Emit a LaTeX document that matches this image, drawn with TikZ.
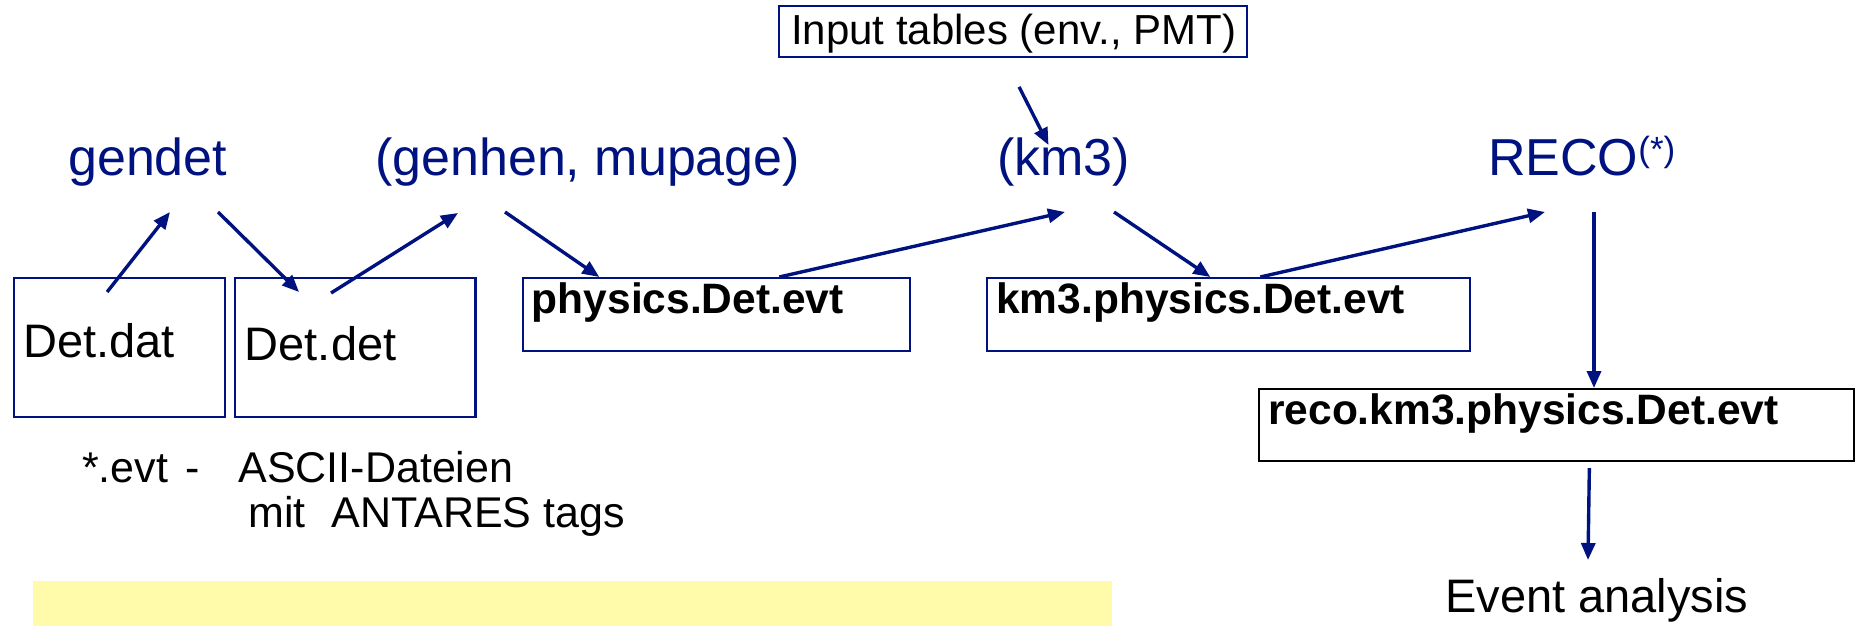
\documentclass[tikz,border=0pt]{standalone}
\usepackage{fontspec}
\setmainfont{Liberation Sans}
\usetikzlibrary{arrows.meta,calc}
\definecolor{navy}{RGB}{0,18,128}
\definecolor{paleyellow}{RGB}{255,251,170}
\begin{document}
\begin{tikzpicture}[x=1pt,y=-1pt,
  filebox/.style={draw=navy,line width=2.2pt,inner sep=0pt,anchor=north west},
  tool/.style={text=navy,font=\fontsize{52}{60}\selectfont,inner sep=0pt,anchor=base west},
  fname/.style={font=\fontsize{42.5}{50}\selectfont\bfseries,inner sep=0pt,anchor=base west},
  plain/.style={font=\fontsize{47}{55}\selectfont,inner sep=0pt,anchor=base west},
  note/.style={font=\fontsize{43}{50}\selectfont,inner sep=0pt,anchor=base west},
  flow/.style={draw=navy,line width=3.4pt,-{Triangle[length=17pt,width=14pt]}}
]
\useasboundingbox (0,0) rectangle (1856,626);

% highlighted strip at the bottom
\fill[paleyellow] (33,581) rectangle (1112,626);

% file boxes
\node[filebox,minimum width=211pt,minimum height=139pt] (dat) at (12.5,277) {};
\node[filebox,minimum width=240.7pt,minimum height=139pt] (det) at (233.6,277) {};
\node[filebox,minimum width=387pt,minimum height=73pt] (phys) at (521.7,277) {};
\node[filebox,minimum width=483pt,minimum height=73pt] (km3box) at (985.7,277) {};
\node[filebox,draw=black,minimum width=595.5pt,minimum height=72pt] (recobox) at (1257.5,388) {};
\node[filebox,minimum width=468pt,minimum height=51pt] (input) at (778,4.7) {};

% file names
\node[plain] (datlbl) at (23,357) {Det.dat};
\node[plain] (detlbl) at (244.6,360) {Det.det};
\node[fname] (physlbl) at (531.7,313.3) {physics.Det.evt};
\node[fname] (km3lbl) at (996,313) {km3.physics.Det.evt};
\node[fname] (recolbl) at (1268,424) {reco.km3.physics.Det.evt};
\node[font=\fontsize{42}{50}\selectfont,inner sep=0pt,anchor=base west] (inlbl) at (791,45) {Input tables (env., PMT)};

% programs
\node[tool] (gendet) at (68,175) {gendet};
\node[tool] (genhen) at (375,175) {(genhen, mupage)};
\node[tool] (km3) at (997,175) {(km3)};
\node[tool] (reco) at (1488,175) {RECO\raisebox{14pt}{\fontsize{35}{40}\selectfont(*)}};

\node[plain] (event) at (1445,612) {Event analysis};

% legend
\node[note] (note1) at (82,482) {*.evt\hspace{17pt}-\hspace{39pt}ASCII-Dateien};
\node[note] (note2) at (248,527) {mit\hspace{26pt}ANTARES tags};

% processing chain
\draw[flow] ($(dat.north)+(-12,15)$) -- ($(gendet.base west)+(102,37)$);
\draw[flow] ($(gendet.base west)+(150,37)$) -- ($(det.north)+(-56,15)$);
\draw[flow] ($(det.north)+(-24,16)$) -- ($(genhen.base west)+(83,38)$);
\draw[flow] ($(genhen.base west)+(130,37)$) -- ($(phys.north)+(-117,0)$);
\draw[flow] ($(phys.north)+(63,0)$) -- ($(km3.base west)+(68,37)$);
\draw[flow] ($(km3.base west)+(117,37)$) -- ($(km3box.north)+(-18,0)$);
\draw[flow] ($(km3box.north)+(32,0)$) -- ($(reco.base west)+(57,37)$);
\draw[flow] ($(reco.base west)+(106,37)$) coordinate (v1) -- (v1 |- recobox.north);
\draw[flow] ($(recobox.south)+(33,6)$) -- ($(event.base west)+(143,-52)$);
\draw[flow] ($(input.south)+(6,29)$) -- ($(km3.base west)+(51.5,-30)$);
\end{tikzpicture}
\end{document}
